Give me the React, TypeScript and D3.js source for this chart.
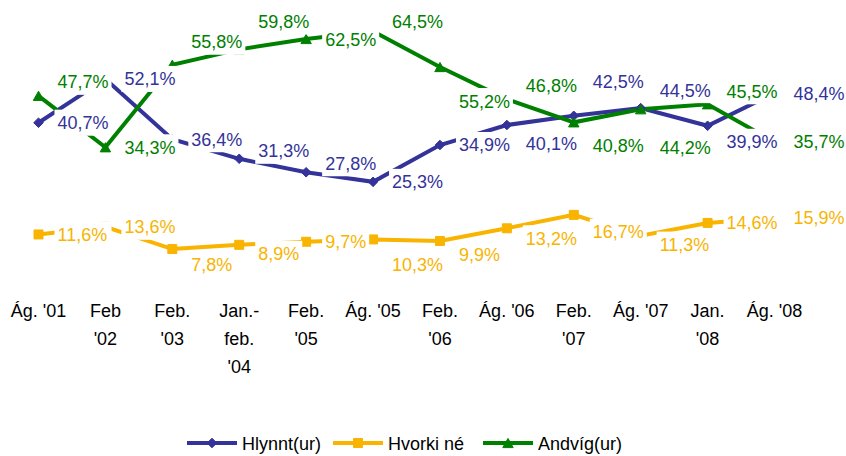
import React from "react";
import * as d3 from "d3";

const categories = [
  "Ág. '01",
  "Feb\n'02",
  "Feb.\n'03",
  "Jan.-\nfeb.\n'04",
  "Feb.\n'05",
  "Ág. '05",
  "Feb.\n'06",
  "Ág. '06",
  "Feb.\n'07",
  "Ág. '07",
  "Jan.\n'08",
  "Ág. '08",
];

const hlynnt = [40.7, 52.1, 36.4, 31.3, 27.8, 25.3, 34.9, 40.1, 42.5, 44.5, 39.9, 48.4];
const hvorki = [11.6, 13.6, 7.8, 8.9, 9.7, 10.3, 9.9, 13.2, 16.7, 11.3, 14.6, 15.9];
const andvig = [47.7, 34.3, 55.8, 59.8, 62.5, 64.5, 55.2, 46.8, 40.8, 44.2, 45.5, 35.7];

// vertical nudges of the data labels (px), as placed in the original
const hlynntLabelNudge = [0, 0, 0, -8, -9, 0, 0, 18, -34, -18, 16, 0];
const hvorkiLabelNudge = [0, 0, 15, 9, 0, 25, 14, 10, 17, 9, 0, 0];
const andvigLabelNudge = [-14, 0, -23, -28, 0, -10, 34, -14, 23, 38, -13, 0];

const seriesNames = ["Hlynnt(ur)", "Hvorki né", "Andvíg(ur)"];

const FONT = "'Liberation Sans', Arial, Helvetica, sans-serif";
const FS = 18;

type Series = {
  name: string;
  values: number[];
  nudge: number[];
  color: string;
  marker: "diamond" | "square" | "triangle";
};

const series: Series[] = [
  { name: seriesNames[0], values: hlynnt, nudge: hlynntLabelNudge, color: "#333399", marker: "diamond" },
  { name: seriesNames[1], values: hvorki, nudge: hvorkiLabelNudge, color: "#F8B400", marker: "square" },
  { name: seriesNames[2], values: andvig, nudge: andvigLabelNudge, color: "#008000", marker: "triangle" },
];

function markerPath(kind: string, cx: number, cy: number): string {
  if (kind === "diamond") {
    const r = 4.8;
    return `M${cx},${cy - r}L${cx + r},${cy}L${cx},${cy + r}L${cx - r},${cy}Z`;
  }
  if (kind === "square") {
    const r = 4.5;
    return `M${cx - r},${cy - r}H${cx + r}V${cy + r}H${cx - r}Z`;
  }
  const w = 5.2;
  const h = 4.6;
  return `M${cx},${cy - h}L${cx + w},${cy + h}L${cx - w},${cy + h}Z`;
}

function fmt(v: number): string {
  return v.toFixed(1).replace(".", ",") + "%";
}

function textWidth(s: string): number {
  let w = 0;
  for (const ch of s) {
    if (ch >= "0" && ch <= "9") w += 0.556;
    else if (ch === ",") w += 0.278;
    else if (ch === "%") w += 0.889;
    else w += 0.556;
  }
  return w * FS;
}

export default function App() {
  const W = 846;
  const H = 456;
  const x = d3.scalePoint<string>().domain(categories).range([38.5, 774.5]);
  const y = d3.scaleLinear().domain([0, 70]).range([279, 10.2]);

  const line = d3
    .line<number>()
    .x((_, i) => x(categories[i]) as number)
    .y((d) => y(d));

  const legendItems = [
    { s: series[0], lx: 187, tx: 242 },
    { s: series[1], lx: 333, tx: 388 },
    { s: series[2], lx: 483, tx: 538 },
  ];
  const legendY = 443;

  return (
    <svg
      width={W}
      height={H}
      style={{ position: "absolute", left: 0, top: 0, background: "#fff" }}
      fontFamily={FONT}
    >
      <rect x={0} y={0} width={W} height={H} fill="#fff" />
      {/* lines */}
      {series.map((s) => (
        <path
          key={"l" + s.name}
          d={line(s.values) || ""}
          fill="none"
          stroke={s.color}
          strokeWidth={4}
          strokeLinejoin="miter"
        />
      ))}
      {/* markers */}
      {series.map((s) =>
        s.values.map((v, i) => (
          <path
            key={"m" + s.name + i}
            d={markerPath(s.marker, x(categories[i]) as number, y(v))}
            fill={s.color}
            stroke={s.color}
            strokeWidth={1}
          />
        ))
      )}
      {/* data labels */}
      {series.map((s) =>
        s.values.map((v, i) => {
          const px = x(categories[i]) as number;
          const cy = y(v) + s.nudge[i];
          const t = fmt(v);
          const tw = textWidth(t);
          return (
            <g key={"t" + s.name + i}>
              <rect x={px + 16} y={cy - 13} width={tw + 6} height={26} fill="#fff" />
              <text x={px + 19} y={cy + 6.5} fontSize={FS} fill={s.color}>
                {t}
              </text>
            </g>
          );
        })
      )}
      {/* category axis labels */}
      {categories.map((c) => {
        const lines = c.split("\n");
        return (
          <text
            key={"c" + c}
            x={x(c) as number}
            y={316.5}
            fontSize={FS}
            textAnchor="middle"
            fill="#000"
          >
            {lines.map((ln, j) => (
              <tspan key={j} x={x(c) as number} dy={j === 0 ? 0 : 28}>
                {ln}
              </tspan>
            ))}
          </text>
        );
      })}
      {/* legend */}
      {legendItems.map(({ s, lx, tx }) => (
        <g key={"lg" + s.name}>
          <line x1={lx} x2={lx + 50} y1={legendY} y2={legendY} stroke={s.color} strokeWidth={4} />
          <path d={markerPath(s.marker, lx + 25, legendY)} fill={s.color} stroke={s.color} strokeWidth={1} />
          <text x={tx} y={legendY + 6.5} fontSize={FS} fill="#000">
            {s.name}
          </text>
        </g>
      ))}
    </svg>
  );
}
